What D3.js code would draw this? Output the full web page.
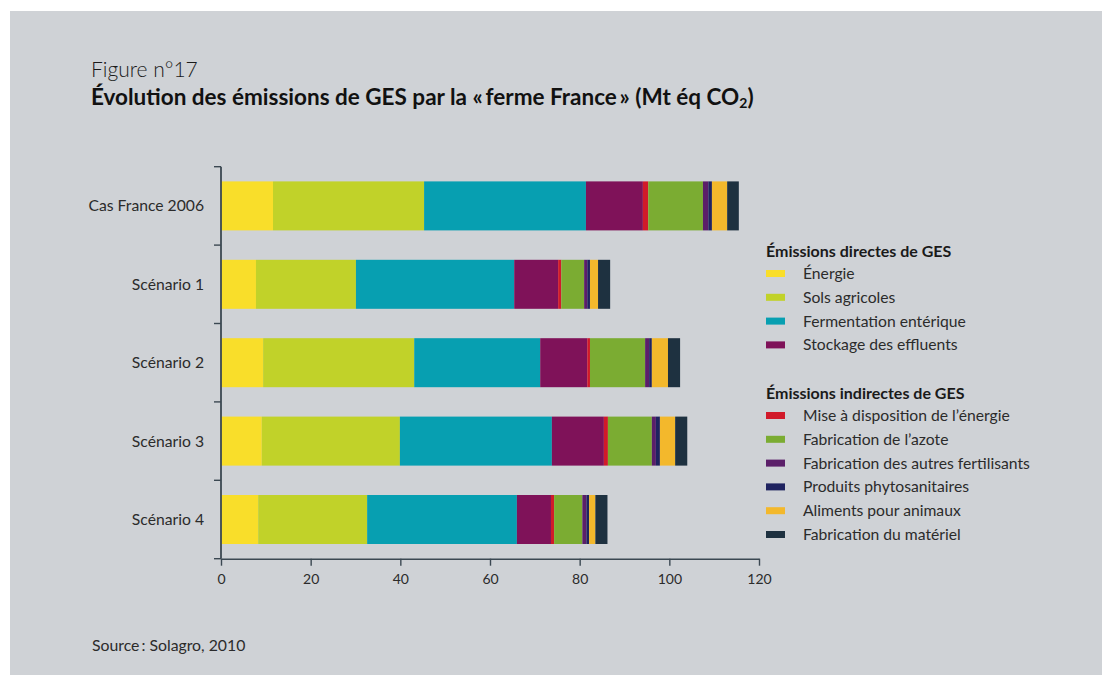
<!DOCTYPE html>
<html>
<head>
<meta charset="utf-8">
<style>
  html, body { margin: 0; padding: 0; background: #ffffff; }
  svg { display: block; font-family: Lato, "Open Sans", sans-serif; }
</style>
</head>
<body>
<svg id="chart"></svg>
<script src="https://d3js.org/d3.v7.min.js"></script>
<script>
  // Données (Mt éq CO2)
  const categories = ["Cas France 2006", "Scénario 1", "Scénario 2", "Scénario 3", "Scénario 4"];
  const energie      = [11.6,  7.8,  9.4,  9.1,  8.3];
  const sols         = [33.7, 22.3, 33.7, 30.8, 24.3];
  const fermentation = [36.1, 35.3, 28.1, 33.9, 33.4];
  const stockage     = [12.7,  9.8, 10.5, 11.6,  7.6];
  const miseDispo    = [ 1.2,  0.7,  0.6,  0.9,  0.7];
  const azote        = [12.2,  5.1, 12.3,  9.8,  6.3];
  const autresFert   = [ 1.2,  0.7,  0.9,  0.9,  0.9];
  const phyto        = [ 0.8,  0.6,  0.6,  0.9,  0.6];
  const aliments     = [ 3.4,  1.8,  3.6,  3.4,  1.4];
  const materiel     = [ 2.6,  2.7,  2.7,  2.7,  2.7];
  const xTicks = [0, 20, 40, 60, 80, 100, 120];

  const series = [
    { key: "Énergie", values: energie, color: "#f9de2a", group: 0 },
    { key: "Sols agricoles", values: sols, color: "#c1d229", group: 0 },
    { key: "Fermentation entérique", values: fermentation, color: "#079fb1", group: 0 },
    { key: "Stockage des effluents", values: stockage, color: "#7f1259", group: 0 },
    { key: "Mise à disposition de l’énergie", values: miseDispo, color: "#d11a2a", group: 1 },
    { key: "Fabrication de l’azote", values: azote, color: "#7bac32", group: 1 },
    { key: "Fabrication des autres fertilisants", values: autresFert, color: "#5b1f69", group: 1 },
    { key: "Produits phytosanitaires", values: phyto, color: "#1f2360", group: 1 },
    { key: "Aliments pour animaux", values: aliments, color: "#f3b82c", group: 1 },
    { key: "Fabrication du matériel", values: materiel, color: "#1e3140", group: 1 }
  ];

  const W = 1102, H = 675;
  const axisColor = "#3b4852";
  const textColor = "#2b2b2b";

  const svg = d3.select("#chart").attr("width", W).attr("height", H);

  // fond gris
  svg.append("rect").attr("x", 10).attr("y", 11).attr("width", W - 10).attr("height", H - 11)
    .attr("fill", "#cfd2d6");

  // titres
  svg.append("text").attr("x", 91).attr("y", 77)
    .attr("font-size", 21).attr("font-weight", 300).attr("fill", "#1a1a1a")
    .text("Figure n°17");
  const title = svg.append("text").attr("x", 91).attr("y", 105)
    .attr("font-size", 22.5).attr("font-weight", 700).attr("fill", "#111");
  title.append("tspan").text("Évolution des émissions de GES par la «\u2009ferme France\u2009» (Mt éq CO");
  title.append("tspan").attr("font-size", 14).attr("dy", 3).text("2");
  title.append("tspan").attr("dy", -3).text(")");

  // données empilées
  const rows = categories.map((c, i) => {
    const r = { cat: c };
    series.forEach(s => r[s.key] = s.values[i]);
    return r;
  });
  const stacked = d3.stack().keys(series.map(s => s.key))(rows);

  const x = d3.scaleLinear().domain([0, 120]).range([221, 759]);
  const y = d3.scaleBand().domain(categories).range([166.7, 558.7])
    .paddingInner(0.375).paddingOuter(0.1875);

  svg.append("g").selectAll("g")
    .data(stacked)
    .join("g")
    .attr("fill", (d, i) => series[i].color)
    .selectAll("rect")
    .data(d => d)
    .join("rect")
    .attr("x", d => x(d[0]))
    .attr("y", d => y(d.data.cat))
    .attr("width", d => x(d[1]) - x(d[0]))
    .attr("height", y.bandwidth());

  // axe X
  const xAxis = svg.append("g")
    .attr("transform", `translate(0,${y.range()[1]})`)
    .call(d3.axisBottom(x).tickValues(xTicks).tickSize(7).tickSizeOuter(0).tickPadding(8));
  xAxis.select(".domain").attr("stroke", axisColor).attr("stroke-width", 1.6);
  xAxis.selectAll(".tick line").attr("stroke", axisColor).attr("stroke-width", 1.4);
  xAxis.selectAll(".tick text").attr("fill", textColor).attr("font-size", 14)
    .attr("font-family", "Lato, sans-serif");

  // axe Y : ligne + repères aux limites des catégories
  const step = y.step();
  const y0 = y.range()[0];
  const bounds = d3.range(categories.length + 1).map(i => y0 + i * step);
  const yAxis = svg.append("g");
  yAxis.append("line").attr("x1", x(0)).attr("x2", x(0))
    .attr("y1", y0).attr("y2", y.range()[1])
    .attr("stroke", axisColor).attr("stroke-width", 1.8);
  yAxis.selectAll("line.tick").data(bounds).join("line").attr("class", "tick")
    .attr("x1", x(0) - 7).attr("x2", x(0)).attr("y1", d => d).attr("y2", d => d)
    .attr("stroke", axisColor).attr("stroke-width", 1.4);
  yAxis.selectAll("text").data(categories).join("text")
    .attr("x", 204).attr("y", d => y(d) + y.bandwidth() / 2)
    .attr("dy", "0.35em").attr("text-anchor", "end")
    .attr("font-size", 15.7).attr("fill", textColor)
    .text(d => d);

  // légende
  const legend = svg.append("g");
  const groupTitles = ["Émissions directes de GES", "Émissions indirectes de GES"];
  const groupTop = [251, 393];
  const rowStep = 23.8;
  groupTitles.forEach((t, gi) => {
    legend.append("text").attr("x", 766).attr("y", groupTop[gi])
      .attr("dy", "0.35em").attr("font-size", 16).attr("font-weight", 700)
      .attr("fill", "#1a1a1a").text(t);
    const items = series.filter(s => s.group === gi);
    items.forEach((s, i) => {
      const cy = groupTop[gi] + 22.5 + i * rowStep;
      legend.append("rect").attr("x", 766).attr("y", cy - 3.5)
        .attr("width", 19).attr("height", 7).attr("fill", s.color);
      legend.append("text").attr("x", 803).attr("y", cy).attr("dy", "0.35em")
        .attr("font-size", 15.7).attr("fill", textColor).text(s.key);
    });
  });

  // source
  svg.append("text").attr("x", 92).attr("y", 651)
    .attr("font-size", 15.8).attr("fill", textColor)
    .text("Source\u2009: Solagro, 2010");
</script>
</body>
</html>
